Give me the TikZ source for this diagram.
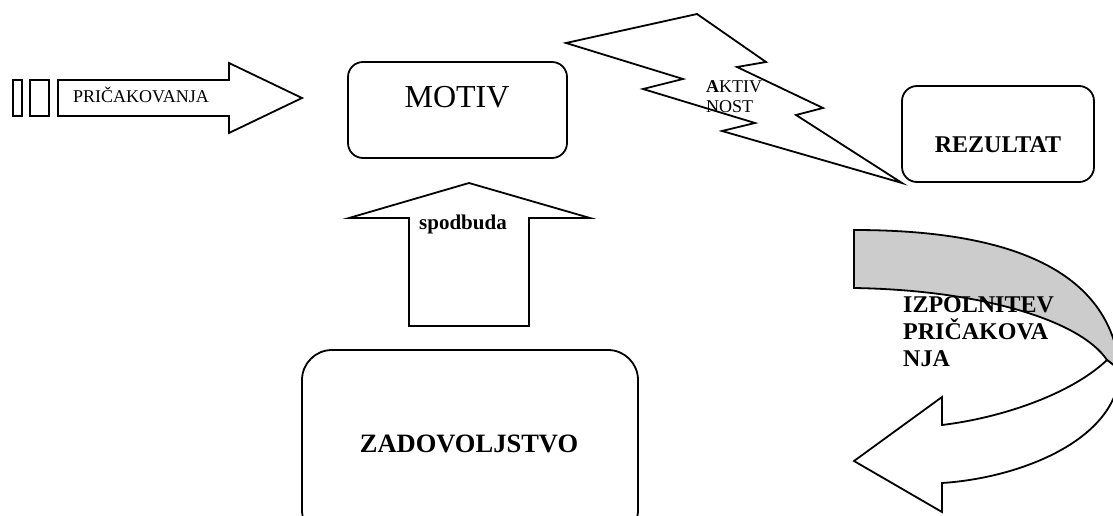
\documentclass[tikz,border=0pt]{standalone}
\usepackage{fontspec}
\setmainfont{Liberation Serif}
\definecolor{bandgrey}{RGB}{204,204,204}
\tikzset{
  outline/.style={draw=black, line width=1.8pt, line join=miter},
  box/.style={draw=black, line width=1.8pt, inner sep=0pt},
  lbl/.style={inner sep=0pt, anchor=base west, text=black},
}
\newcommand{\fsz}[1]{\fontsize{#1}{#1}\selectfont}
\begin{document}
\begin{tikzpicture}[x=1pt,y=-1pt]
\useasboundingbox (0,0) rectangle (1113,516);
\clip (0,0) rectangle (1113,516);
% striped arrow PRICAKOVANJA
\draw[outline] (13,80) rectangle (22,116);
\draw[outline] (30,80) rectangle (49,116);
\draw[outline] (58,80) -- (229,80) -- (229,63) -- (302,98) -- (229,133) -- (229,116) -- (58,116) -- cycle;
\node[lbl] (pric) at (73,103) {\fsz{18}PRIČAKOVANJA};
% MOTIV box
\node[box, rounded corners=15pt, minimum width=219pt, minimum height=96pt] (motiv) at (457.5,110) {};
\node[inner sep=0pt, anchor=base] (motivt) at (457,108) {\fsz{32}MOTIV};
% lightning
\draw[outline] (566,43) -- (697,14) -- (766,62) -- (737,67) -- (823,108) -- (796,115) -- (902,183)
  -- (722,131) -- (755,123) -- (643,89) -- (683,79) -- cycle;
\node[lbl] (akt1) at (706,93) {\fsz{18}\textbf{A}KTIV};
\node[lbl] (akt2) at (706,113) {\fsz{18}NOST};
% REZULTAT box
\node[box, rounded corners=15pt, minimum width=192pt, minimum height=96pt] (rez) at (998,134) {};
\node[inner sep=0pt, anchor=base] (rezt) at (998,152) {\fsz{24}\textbf{REZULTAT}};
% spodbuda arrow
\draw[outline] (409,326) -- (409,218) -- (349,218) -- (469,183) -- (590,218) -- (529,218) -- (529,326) -- cycle;
\node[inner sep=0pt, anchor=base] (spod) at (463,229) {\fsz{21}\textbf{spodbuda}};
% ZADOVOLJSTVO box
\node[box, rounded corners=30pt, minimum width=336pt, minimum height=190pt] (zad) at (470,445) {};
\node[inner sep=0pt, anchor=base] (zadt) at (469,452) {\fsz{26.5}\textbf{ZADOVOLJSTVO}};
% curved arrow
\draw[outline, fill=bandgrey] (854,230) .. controls (1010,230) and (1110,270) .. (1120,370)
  -- (1107,360) .. controls (1080,320) and (980,290) .. (854,288) -- cycle;
\draw[outline, fill=white] (1107,360) .. controls (1070,395) and (1000,418) .. (942,425)
  -- (942,397) -- (854,461) -- (942,512) -- (942,483)
  .. controls (1020,478) and (1118,440) .. (1120,370) -- cycle;
\node[lbl] (izp1) at (903,312) {\fsz{24}\textbf{IZPOLNITEV}};
\node[lbl] (izp2) at (903,339) {\fsz{24}\textbf{PRIČAKOVA}};
\node[lbl] (izp3) at (903,366) {\fsz{24}\textbf{NJA}};
\end{tikzpicture}
\end{document}
